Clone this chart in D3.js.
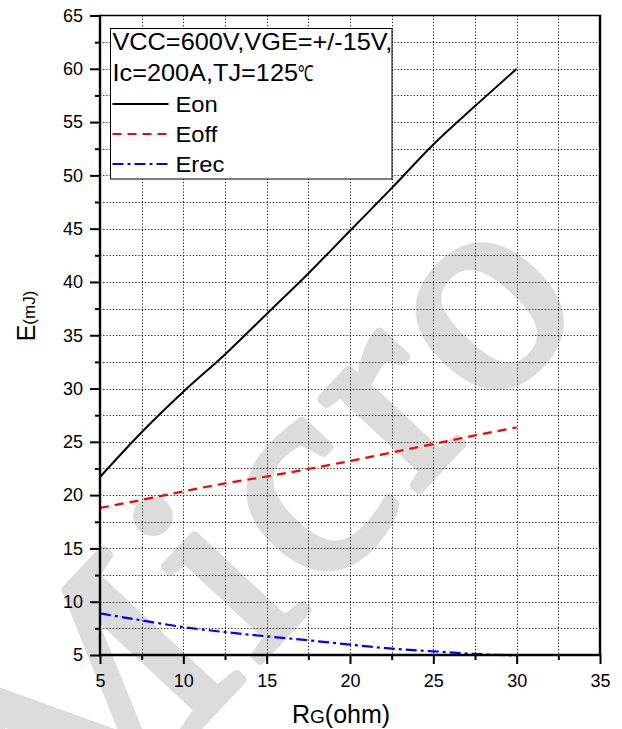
<!DOCTYPE html>
<html>
<head>
<meta charset="utf-8">
<script src="https://cdn.jsdelivr.net/npm/d3@7/dist/d3.min.js"></script>
<style>
  html, body { margin: 0; padding: 0; background: #fff; }
  svg { display: block; }
  text { font-family: Arial, "Liberation Sans", sans-serif; fill: #000; }
</style>
</head>
<body>
<svg id="chart" width="622" height="729"></svg>
<script>
// ---- data ----
const rg   = [5, 7.5, 10, 12.5, 15, 17.5, 20, 22.5, 25, 27.5, 30];
const eon  = [21.7, 25.9, 29.7, 33.2, 37.0, 40.8, 44.8, 48.8, 52.9, 56.5, 60.0];
const eoff = [18.8, 19.55, 20.35, 21.1, 21.75, 22.45, 23.2, 24.0, 24.8, 25.6, 26.35];
const erec = [8.9, 8.25, 7.62, 7.15, 6.75, 6.38, 5.97, 5.6, 5.34, 5.1, 4.95];
const xMajor = [5, 10, 15, 20, 25, 30, 35];
const yMajor = [5, 10, 15, 20, 25, 30, 35, 40, 45, 50, 55, 60, 65];
const xMinor = [7.5, 12.5, 17.5, 22.5, 27.5, 32.5];
const yMinor = [7.5, 12.5, 17.5, 22.5, 27.5, 32.5, 37.5, 42.5, 47.5, 52.5, 57.5, 62.5];
const legendTitle = ["VCC=600V,VGE=+/-15V,", "Ic=200A,TJ=125"];
const degreeSign = "\u2103";
const seriesNames = ["Eon", "Eoff", "Erec"];
const watermark = "Micro";

// ---- layout ----
const svg = d3.select("#chart");
const L = 100, R = 600, T = 15.5, B = 655;
const x = d3.scaleLinear().domain([5, 35]).range([L, R]);
const y = d3.scaleLinear().domain([5, 65]).range([B, T]);

// watermark
svg.append("text")
  .attr("transform", "translate(72,862) rotate(-47)")
  .attr("font-family", "'Liberation Serif', 'DejaVu Serif', serif")
  .style("font-family", "'Liberation Serif', 'DejaVu Serif', serif")
  .attr("font-size", 290)
  .attr("letter-spacing", 12)
  .style("fill", "#dcdcdc")
  .attr("stroke", "#dcdcdc").attr("stroke-width", 9).attr("stroke-linejoin", "round")
  .text(watermark);

// grid
const gridX = xMajor.concat(xMinor).filter(v => v > 5 && v < 35);
const gridY = yMajor.concat(yMinor).filter(v => v > 5 && v < 65);
const grid = svg.append("g").attr("stroke", "#111").attr("stroke-width", 1)
  .attr("stroke-dasharray", "1.2,2");
grid.selectAll("line.gx").data(gridX).join("line")
  .attr("x1", d => Math.round(x(d)) + 0.5).attr("x2", d => Math.round(x(d)) + 0.5)
  .attr("y1", T).attr("y2", B);
grid.selectAll("line.gy").data(gridY).join("line")
  .attr("y1", d => Math.round(y(d)) + 0.5).attr("y2", d => Math.round(y(d)) + 0.5)
  .attr("x1", L).attr("x2", R);

// curves
const series = [
  {name: seriesNames[0], vals: eon,  color: "#000",    dash: null,         w: 2},
  {name: seriesNames[1], vals: eoff, color: "#ff0000", dash: "9,6",        w: 2.2},
  {name: seriesNames[2], vals: erec, color: "#0000ff", dash: "11,4,3,4",   w: 2.2}
];
const line = d3.line().x((d, i) => x(rg[i])).y(d => y(d)).curve(d3.curveMonotoneX);
svg.append("defs").append("clipPath").attr("id", "clip")
  .append("rect").attr("x", L).attr("y", T - 2).attr("width", R - L).attr("height", B - T + 4);
series.forEach(s => {
  svg.append("path").datum(s.vals)
    .attr("clip-path", "url(#clip)")
    .attr("fill", "none").attr("stroke", s.color).attr("stroke-width", s.w)
    .attr("stroke-dasharray", s.dash)
    .attr("d", line);
});

// axes
const axL = svg.append("g").attr("transform", `translate(${L},0)`)
  .call(d3.axisLeft(y).tickValues(yMajor).tickSize(10).tickPadding(7).tickFormat(d3.format("d")));
const axLm = svg.append("g").attr("transform", `translate(${L},0)`)
  .call(d3.axisLeft(y).tickValues(yMinor).tickSize(5).tickFormat(""));
const axB = svg.append("g").attr("transform", `translate(0,${B})`)
  .call(d3.axisBottom(x).tickValues(xMajor).tickSize(9).tickPadding(10).tickFormat(d3.format("d")));
const axBm = svg.append("g").attr("transform", `translate(0,${B})`)
  .call(d3.axisBottom(x).tickValues(xMinor).tickSize(5).tickFormat(""));
[axL, axLm, axB, axBm].forEach(a => {
  a.select(".domain").remove();
  a.selectAll(".tick line").attr("stroke", "#000").attr("stroke-width", 2);
  a.selectAll(".tick text").attr("font-size", 18)
    .attr("font-family", "Arial, 'Liberation Sans', sans-serif").attr("fill", "#000");
});

// frame
svg.append("line").attr("x1", L).attr("x2", R + 1.2).attr("y1", T).attr("y2", T)
  .attr("stroke", "#000").attr("stroke-width", 1.6);
svg.append("line").attr("x1", R).attr("x2", R).attr("y1", T).attr("y2", B)
  .attr("stroke", "#000").attr("stroke-width", 2.4);
svg.append("line").attr("x1", L).attr("x2", L).attr("y1", T - 0.8).attr("y2", B + 1)
  .attr("stroke", "#000").attr("stroke-width", 2.4);
svg.append("line").attr("x1", L - 1).attr("x2", R + 1.2).attr("y1", B).attr("y2", B)
  .attr("stroke", "#000").attr("stroke-width", 2.4);

// axis titles
const xt = svg.append("text").attr("x", 292).attr("y", 723).attr("font-size", 25);
xt.append("tspan").text("R");
xt.append("tspan").attr("font-size", 19).text("G");
xt.append("tspan").text("(ohm)");
const yt = svg.append("text").attr("transform", "translate(35,316) rotate(-90)")
  .attr("text-anchor", "middle").attr("font-size", 25);
yt.append("tspan").text("E");
yt.append("tspan").attr("font-size", 17).text("(mJ)");

// legend
const lg = svg.append("g");
lg.append("rect").attr("x", 110.5).attr("y", 28.5).attr("width", 281.5).attr("height", 150.5)
  .attr("fill", "#fff").attr("stroke", "#000").attr("stroke-width", 1);
const titleY = [50, 81];
legendTitle.forEach((t, i) => {
  const tx = lg.append("text").attr("transform", `translate(112.5,${titleY[i]}) scale(1.1,1)`)
    .attr("font-size", 23).text(t);
  if (i === 1) tx.append("tspan").attr("font-size", 22)
    .attr("textLength", 14).attr("lengthAdjust", "spacingAndGlyphs").text(degreeSign);
});
const entryY = [104, 134, 164];
series.forEach((s, i) => {
  lg.append("line").attr("x1", 112.5).attr("x2", 168.5)
    .attr("y1", entryY[i]).attr("y2", entryY[i])
    .attr("stroke", s.color).attr("stroke-width", s.w).attr("stroke-dasharray", s.dash);
  lg.append("text").attr("transform", `translate(175.5,${entryY[i] + 7.8}) scale(1.08,1)`)
    .attr("font-size", 22).text(s.name);
});
</script>
</body>
</html>
